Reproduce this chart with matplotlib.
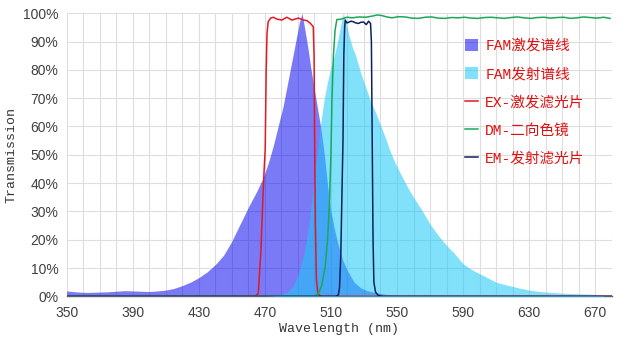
import matplotlib
matplotlib.use("Agg")
import matplotlib.pyplot as plt
from matplotlib.patches import Patch
from matplotlib.lines import Line2D
import numpy as np

# ---------------- data ----------------
ex_wl = [350, 355, 360, 365, 370, 375, 380, 385, 390, 395, 400, 405, 410, 415, 420, 425, 430, 435,
         440, 445, 450, 455, 460, 465, 469, 472, 475, 478, 481, 484, 487, 489, 491, 492.5, 494, 496, 498,
         500, 502, 504, 506, 508, 510, 512, 514, 517, 520, 524, 528, 532, 538, 545, 555]
ex_val = [1.9, 1.6, 1.4, 1.4, 1.5, 1.6, 1.8, 2.0, 1.9, 1.8, 1.7, 1.9, 2.2, 2.8, 3.8, 5.0, 6.6, 8.6,
          11.2, 14.5, 19.5, 25.5, 31.5, 37, 42, 47, 53, 60, 67, 76, 85, 91, 97, 100, 95, 88, 80,
          73, 66, 59, 50, 39, 30, 24, 19, 13, 9, 5, 3, 2, 1.2, 0.5, 0]

em_wl = [470, 475, 480, 484, 487, 490, 492, 494, 496, 498, 500, 502, 504, 506, 508, 510, 512, 514,
         516, 517.5, 519, 521, 523, 525, 528, 531, 534, 537, 540, 543, 546, 549, 552, 556, 560, 565,
         570, 575, 580, 585, 590, 595, 600, 605, 610, 615, 620, 625, 630, 635, 640, 645, 650, 655,
         660, 665, 670, 675]
em_val = [0, 0.2, 0.7, 1.6, 3.5, 7.5, 11.5, 16, 23, 32, 42, 52, 62, 70, 76, 81, 85, 90,
          96, 100, 97, 92, 88, 85, 79, 74, 69, 65, 60.5, 56, 51, 47, 43.5, 39, 35, 30.5,
          25.5, 21.5, 18, 15, 11.5, 9.5, 8, 6.5, 5, 4.2, 3.5, 2.8, 2.2, 1.8, 1.5, 1.3, 1.1, 1.0,
          0.9, 0.8, 0.7, 0.5]

exf_wl = [350, 464, 466, 467.6, 468.5, 469.5, 470.2, 470.8, 471.3, 472, 473.5, 475.2, 477, 480.3,
          483.3, 486.4, 488.5, 490.4, 493.4, 495.5, 497.5, 498.5, 499.3, 499.8, 500.2, 500.6, 501.2,
          502, 503, 505, 680]
exf_val = [0, 0, 1, 16, 30, 44, 52, 80, 93, 97, 98.3, 98.6, 98, 97.6,
           98.6, 97.6, 98, 98.3, 97.6, 97.4, 96.5, 95.8, 95.3, 85, 50, 25, 6,
           1.5, 0.3, 0, 0]

dm_wl = [350, 500, 502.5, 504.5, 506.5, 508, 509.2, 510, 510.6, 511.5, 512.5, 513.6, 516, 519.7,
         523, 527, 531, 535, 538, 540, 544, 547, 551, 555, 559, 563, 567, 571, 575, 579, 583, 587,
         591, 595, 599, 603, 607, 611, 615, 619, 623, 627, 631, 635, 639, 643, 647, 651, 655, 659,
         663, 667, 671, 675, 679]
dm_val = [0, 0, 1, 4, 10.5, 20, 34, 50, 69, 85, 94, 97.8, 97.9, 98.6,
          98.4, 98.7, 98.6, 99.0, 99.4, 99.3, 98.7, 98.4, 98.8, 98.7, 98.3, 98.2, 98.6, 98.7, 98.3,
          98.2, 98.5, 98.4, 98.6, 98.3, 98.2, 98.5, 98.6, 98.4, 98.2, 98.5, 98.7, 98.4, 98.2, 98.5,
          98.6, 98.3, 98.5, 98.6, 98.2, 98.4, 98.7, 98.5, 98.3, 98.6, 98.2]

emf_wl = [350, 513, 514.5, 515.2, 516, 516.6, 517.3, 517.8, 518.3, 518.7, 519.7, 520.7, 522, 523.7,
          525, 526.7, 528, 529.8, 531.4, 532.8, 534, 534.5, 535, 535.5, 536, 537, 538.5, 541, 680]
emf_val = [0, 0, 0.5, 3, 15, 34, 55, 85, 95, 97.6, 96.6, 96.8, 97.2, 97,
           96.6, 96.4, 96.8, 96.9, 96, 97.2, 96.4, 90, 55, 20, 5, 1.5, 0.4, 0, 0]

labels = ["FAM激发谱线", "FAM发射谱线", "EX-激发滤光片", "DM-二向色镜", "EM-发射滤光片"]
x_ticks = [350, 390, 430, 470, 510, 550, 590, 630, 670]
y_ticks = [0, 10, 20, 30, 40, 50, 60, 70, 80, 90, 100]

# ---------------- style ----------------
c_ex = (0.0, 0.0, 0.94)
a_ex = 0.52
c_em = (0.10, 0.79, 0.965)
a_em = 0.55
c_exf = "#e01a22"
c_dm = "#1aa85a"
c_emf = "#0c2260"

fig = plt.figure(figsize=(6.25, 3.46), dpi=100)
ax = fig.add_axes([0.1067, 0.1436, 0.872, 0.818])

ax.fill_between(ex_wl, 0, ex_val, color=c_ex, alpha=a_ex, linewidth=0, zorder=2)
ax.fill_between(em_wl, 0, em_val, color=c_em, alpha=a_em, linewidth=0, zorder=3)
ax.plot(exf_wl, exf_val, color=c_exf, lw=1.1, zorder=4)
ax.plot(dm_wl, dm_val, color=c_dm, lw=1.1, zorder=4)
ax.plot(emf_wl, emf_val, color=c_emf, lw=1.1, zorder=5)

ax.set_xlim(350, 680)
ax.set_ylim(0, 100)
ax.set_xticks(x_ticks)
ax.set_xticks(np.arange(350, 681, 10), minor=True)
ax.set_yticks(y_ticks)
ax.set_yticklabels([f"{v}%" for v in y_ticks])
ax.grid(True, which="both", color="#dedede", lw=0.8)
ax.set_axisbelow(True)
ax.tick_params(which="both", length=0, labelsize=10, labelcolor="#404040")
for lab in ax.get_xticklabels() + ax.get_yticklabels():
    lab.set_family("Liberation Sans")
ax.tick_params(axis="x", pad=7)
ax.tick_params(axis="y", pad=6)
for s in ["top", "right", "left"]:
    ax.spines[s].set_visible(False)
ax.spines["bottom"].set_color("#55607a")
ax.spines["bottom"].set_linewidth(1.0)

ax.set_xlabel("Wavelength (nm)", family="Liberation Mono", fontsize=9.5, color="#333333", labelpad=2)
ax.set_ylabel("Transmission", family="Liberation Mono", fontsize=9.5, color="#333333", labelpad=4)

handles = [
    Patch(facecolor=c_ex, alpha=a_ex, edgecolor="none"),
    Patch(facecolor=c_em, alpha=a_em, edgecolor="none"),
    Line2D([], [], color=c_exf, lw=1.1),
    Line2D([], [], color=c_dm, lw=1.1),
    Line2D([], [], color=c_emf, lw=1.1),
]
leg = ax.legend(handles, labels, loc="upper left", bbox_to_anchor=(0.72, 0.93), frameon=False,
                prop={"family": ["Liberation Mono", "Noto Sans CJK SC"], "size": 10.5, "weight": "medium"},
                labelcolor="#e01010", handlelength=0.9, handleheight=0.9, handletextpad=0.5,
                labelspacing=0.97, borderaxespad=0)

fig.savefig("out.png", dpi=100)
